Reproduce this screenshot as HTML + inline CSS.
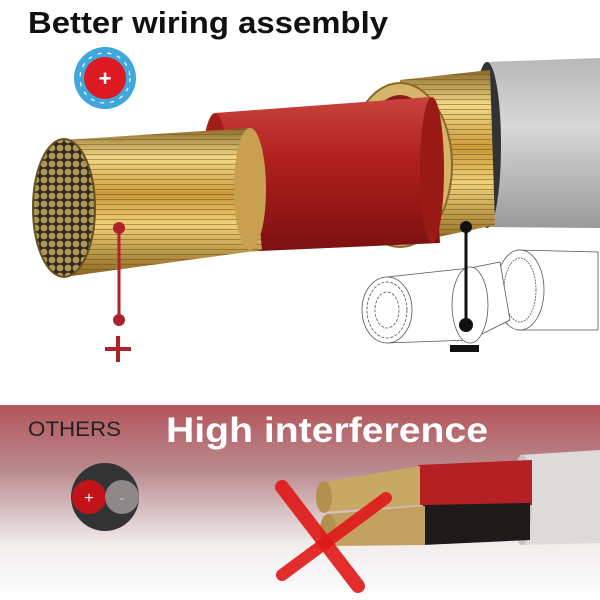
<!DOCTYPE html>
<html><head><meta charset="utf-8"><style>
html,body{margin:0;padding:0;background:#fff}
svg{display:block}
</style></head><body>
<svg width="600" height="600" viewBox="0 0 600 600" xmlns="http://www.w3.org/2000/svg">
<defs>
<linearGradient id="panel" x1="0" y1="0" x2="0" y2="1">
<stop offset="0" stop-color="#b4545a"/><stop offset="0.35" stop-color="#b98a8e"/><stop offset="0.75" stop-color="#f2eeee"/><stop offset="1" stop-color="#fafafa"/>
</linearGradient>
<linearGradient id="gold" x1="0" y1="0" x2="0" y2="1">
<stop offset="0" stop-color="#8a6a2a"/><stop offset="0.2" stop-color="#f3d98a"/><stop offset="0.45" stop-color="#c99a3a"/><stop offset="0.65" stop-color="#f0d27a"/><stop offset="1" stop-color="#8a6420"/>
</linearGradient>
<linearGradient id="red" x1="0" y1="0" x2="0" y2="1">
<stop offset="0" stop-color="#c9433e"/><stop offset="0.4" stop-color="#b0201c"/><stop offset="1" stop-color="#7a1010"/>
</linearGradient>
<linearGradient id="gray" x1="0" y1="0" x2="0" y2="1">
<stop offset="0" stop-color="#b8b8b8"/><stop offset="0.4" stop-color="#d8d8d8"/><stop offset="1" stop-color="#9a9a9a"/>
</linearGradient>
<pattern id="strands" width="6" height="5" patternUnits="userSpaceOnUse">
<line x1="0" y1="4.5" x2="6" y2="4.5" stroke="#6a4a10" stroke-width="0.8" opacity="0.6"/>
</pattern>
<pattern id="dots" width="8" height="8" patternUnits="userSpaceOnUse">
<rect width="8" height="8" fill="#2e2a1c"/><circle cx="4" cy="4" r="3.4" fill="#b0955a"/>
</pattern>
</defs>

<text x="28" y="33" font-family="Liberation Sans, sans-serif" font-weight="bold" font-size="31" fill="#111" textLength="360" lengthAdjust="spacingAndGlyphs">Better  wiring assembly</text>

<ellipse cx="105" cy="78" rx="31" ry="31" fill="#3fa7dc"/>
<circle cx="105" cy="78" r="25" fill="none" stroke="#fff" stroke-width="1.2" stroke-dasharray="4 6"/>
<circle cx="105" cy="78" r="21" fill="#dd1a22"/>
<text x="105" y="86" text-anchor="middle" font-family="Liberation Sans, sans-serif" font-weight="bold" font-size="22" fill="#fff">+</text>

<path d="M485 62 L600 58 L600 228 L485 227 Z" fill="url(#gray)"/>
<ellipse cx="487" cy="145" rx="14" ry="83" fill="#333"/>
<path d="M400 80 L490 70 L495 225 L400 245 Z" fill="url(#gold)"/>
<path d="M400 80 L490 70 L495 225 L400 245 Z" fill="url(#strands)"/>
<ellipse cx="400" cy="165" rx="52" ry="82" fill="#d6b56a" stroke="#8a6a2a" stroke-width="2"/>
<ellipse cx="400" cy="165" rx="40" ry="70" fill="#8c1a16"/>
<path d="M215 113 L430 97 L440 243 L215 253 Z" fill="url(#red)"/>
<ellipse cx="215" cy="183" rx="14" ry="70" fill="#a21e1a"/>
<ellipse cx="432" cy="170" rx="12" ry="73" fill="#9a1a16"/>
<path d="M64 140 L250 128 L262 250 L64 277 Z" fill="url(#gold)"/>
<path d="M64 140 L250 128 L262 250 L64 277 Z" fill="url(#strands)"/>
<ellipse cx="250" cy="189" rx="16" ry="61" fill="#c9a050"/>
<ellipse cx="64" cy="208" rx="31" ry="69" fill="url(#dots)" stroke="#6a5020" stroke-width="2"/>

<line x1="119" y1="228" x2="119" y2="320" stroke="#b0222a" stroke-width="3"/>
<circle cx="119" cy="228" r="6" fill="#b0222a"/>
<circle cx="119" cy="320" r="6" fill="#b0222a"/>
<path d="M105 349 H131 M118 336 V362" stroke="#b0222a" stroke-width="4"/>

<g fill="#fff" stroke="#555" stroke-width="0.8">
<path d="M517 250 L598 252 L598 330 L517 330 Z"/>
<ellipse cx="520" cy="290" rx="24" ry="40"/>
<ellipse cx="520" cy="290" rx="16" ry="32" stroke-dasharray="2 1"/>
<path d="M387 277 L470 268 L500 262 L510 320 L470 340 L387 343 Z"/>
<ellipse cx="470" cy="305" rx="18" ry="38"/>
<ellipse cx="387" cy="310" rx="25" ry="33"/>
<ellipse cx="387" cy="310" rx="20" ry="28" fill="none" stroke-dasharray="3 1.5"/>
<ellipse cx="387" cy="310" rx="12" ry="18" fill="none" stroke-dasharray="3 1.5"/>
</g>
<line x1="466" y1="227" x2="466" y2="325" stroke="#111" stroke-width="3"/>
<circle cx="466" cy="227" r="6" fill="#111"/>
<circle cx="466" cy="325" r="7" fill="#111"/>
<rect x="450" y="345" width="29" height="7" fill="#111"/>

<rect x="0" y="405" width="600" height="187" fill="url(#panel)"/>
<text x="28" y="436" font-family="Liberation Sans, sans-serif" font-size="21" fill="#222" textLength="93" lengthAdjust="spacingAndGlyphs">OTHERS</text>
<text x="166" y="442" font-family="Liberation Sans, sans-serif" font-weight="bold" font-size="35" fill="#fff" textLength="322" lengthAdjust="spacingAndGlyphs">High interference</text>
<circle cx="105" cy="497" r="34" fill="#333"/>
<circle cx="89" cy="497" r="17" fill="#c2131b"/>
<circle cx="122" cy="497" r="17" fill="#8e8888"/>
<text x="89" y="503" text-anchor="middle" font-family="Liberation Sans, sans-serif" font-size="16" fill="#fff">+</text>
<text x="122" y="503" text-anchor="middle" font-family="Liberation Sans, sans-serif" font-size="16" fill="#bbb">-</text>

<path d="M520 455 L600 450 L600 543 L520 545 Z" fill="#dedada"/>
<ellipse cx="522" cy="500" rx="10" ry="45" fill="#c8c2c2"/>
<path d="M418 465 L532 460 L532 505 L418 505 Z" fill="#b52025"/>
<path d="M423 505 L530 503 L530 540 L423 545 Z" fill="#1e1a1a"/>
<path d="M324 482 L420 466 L420 505 L324 512 Z" fill="#c9a865"/>
<path d="M327 514 L425 506 L425 545 L327 546 Z" fill="#c2a060"/>
<ellipse cx="324" cy="497" rx="8" ry="16" fill="#b49050"/>
<ellipse cx="328" cy="530" rx="8" ry="16" fill="#b49050"/>
<path d="M282 487 L358 586" stroke="#e01818" stroke-width="14" stroke-linecap="round" opacity="0.9"/>
<path d="M386 498 L282 575" stroke="#e01818" stroke-width="12" stroke-linecap="round" opacity="0.9"/>
</svg>
</body></html>
